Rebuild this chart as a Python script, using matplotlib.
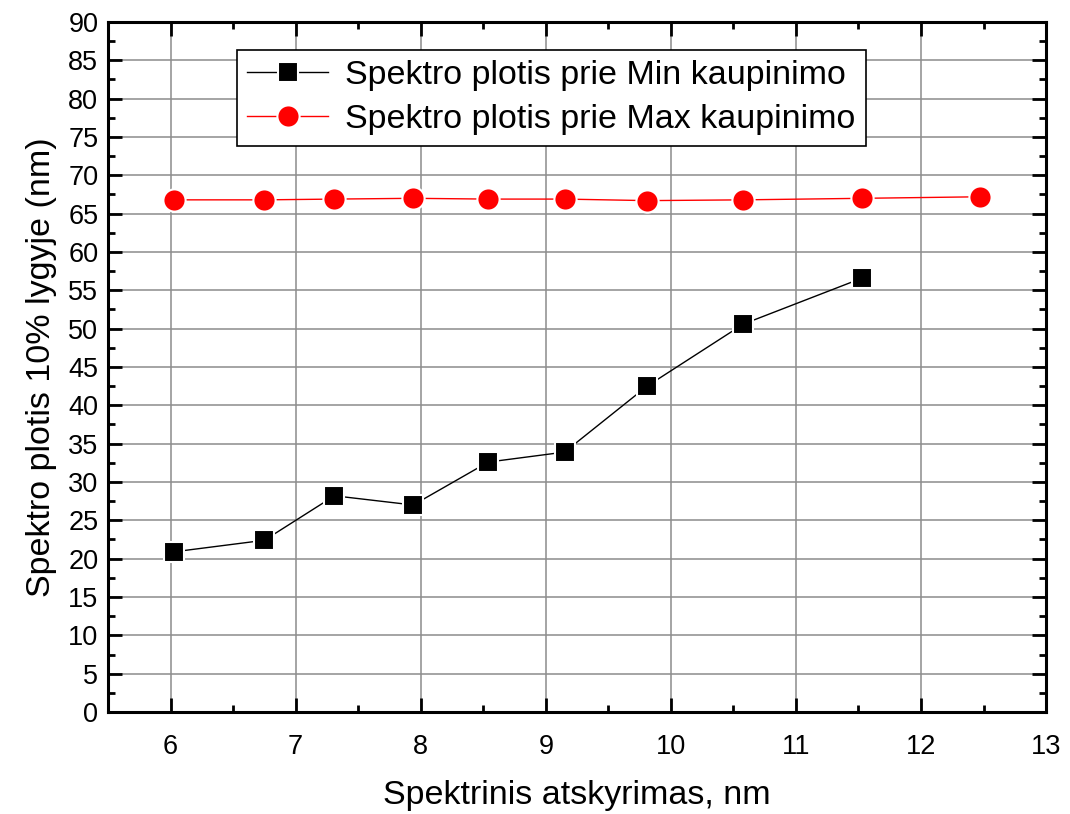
import numpy as np
import matplotlib.pyplot as plt
from matplotlib.ticker import MultipleLocator

plt.rcParams['font.family'] = ['Liberation Sans', 'DejaVu Sans']

# spektrinis atskyrimas (nm)
x_min = [6.03, 6.75, 7.31, 7.94, 8.54, 9.15, 9.81, 10.58, 11.53]
y_min = [20.9, 22.4, 28.2, 27.0, 32.6, 33.9, 42.5, 50.6, 56.6]

x_max = [6.03, 6.75, 7.31, 7.94, 8.54, 9.15, 9.81, 10.58, 11.53, 12.47]
y_max = [66.8, 66.8, 66.9, 67.0, 66.9, 66.9, 66.7, 66.8, 67.0, 67.2]

lbl_min = "Spektro plotis prie Min kaupinimo"
lbl_max = "Spektro plotis prie Max kaupinimo"

fig = plt.figure(figsize=(10.7, 8.14), dpi=100)
ax = fig.add_axes([0.101, 0.1253, 0.8766, 0.8477])

ax.plot(x_min, y_min, color='black', lw=1, marker='s', ms=14,
        mfc='black', mec='white', mew=1.5, label=lbl_min, zorder=3)
ax.plot(x_max, y_max, color='red', lw=1, marker='o', ms=16,
        mfc='red', mec='white', mew=1.5, label=lbl_max, zorder=3)

ax.set_xlim(5.5, 13)
ax.set_ylim(0, 90)
ax.xaxis.set_major_locator(MultipleLocator(1))
ax.xaxis.set_minor_locator(MultipleLocator(0.5))
ax.yaxis.set_major_locator(MultipleLocator(5))
ax.yaxis.set_minor_locator(MultipleLocator(2.5))

ax.grid(True, which='major', color='#8c8c8c', lw=1.1)
ax.set_axisbelow(True)

ax.tick_params(which='both', direction='in', top=True, right=True,
               labelsize=19.5, width=2)
ax.tick_params(which='major', length=10)
ax.tick_params(axis='x', which='major', pad=16)
ax.tick_params(axis='y', which='major', pad=7)
ax.tick_params(which='minor', length=5)
for s in ax.spines.values():
    s.set_linewidth(2.2)

ax.set_xlabel("Spektrinis atskyrimas, nm", fontsize=24.5, labelpad=14)
ax.set_ylabel("Spektro plotis 10% lygyje (nm)", fontsize=24.5, labelpad=8)

leg = ax.legend(loc='upper left', bbox_to_anchor=(0.137, 0.96), fontsize=24.5,
                fancybox=False, edgecolor='black', framealpha=1,
                handlelength=2.4, borderpad=0.3, labelspacing=0.4,
                handletextpad=0.5, borderaxespad=0)
leg.get_frame().set_linewidth(1.2)

fig.savefig("out.png", dpi=100)
